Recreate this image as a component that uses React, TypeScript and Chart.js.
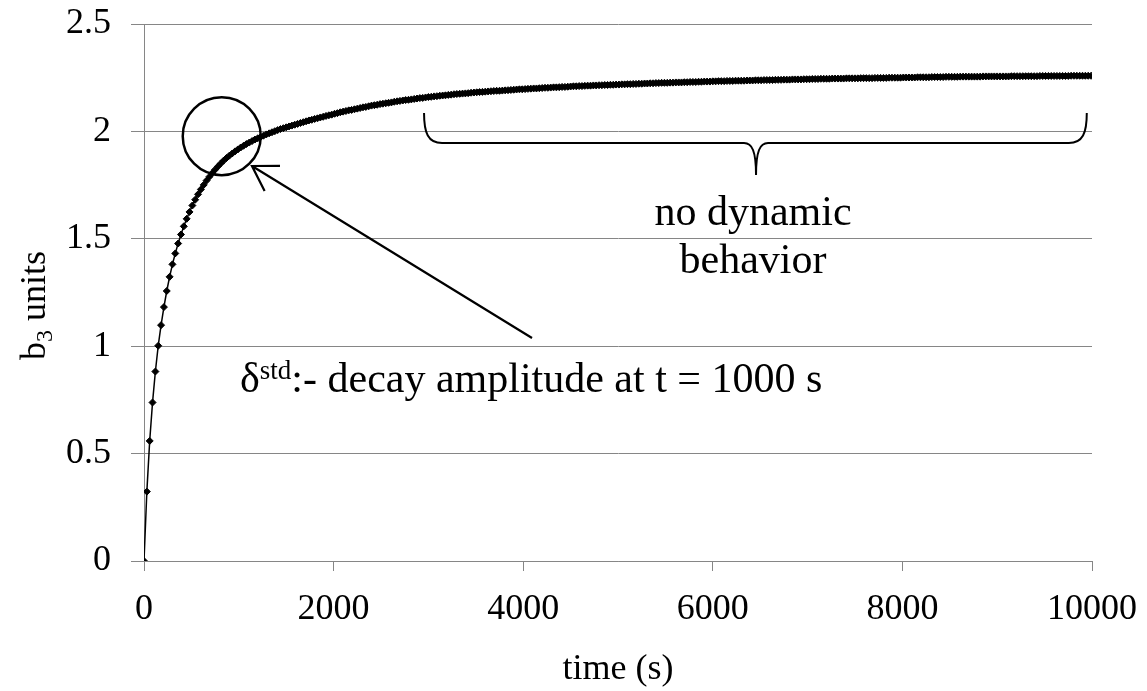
import React, { useEffect, useRef } from "react";
import { Chart, registerables } from "chart.js";

Chart.register(...registerables);

// ---- data ----
const TIME_STEP_S = 30; // sampling interval of the measured series (s)

// b3 (units), one value every TIME_STEP_S seconds, starting at t = 0
const B3_VALUES: number[] = [
  0, 0.323, 0.559, 0.738, 0.882, 1.002, 1.098, 1.182, 1.257, 1.323,
  1.381, 1.432, 1.478, 1.52, 1.558, 1.593, 1.625, 1.655, 1.682, 1.707,
  1.73, 1.751, 1.771, 1.789, 1.806, 1.822, 1.837, 1.851, 1.864, 1.876,
  1.887, 1.897, 1.907, 1.916, 1.925, 1.933, 1.941, 1.948, 1.955, 1.962,
  1.968, 1.974, 1.98, 1.986, 1.991, 1.996, 2.001, 2.006, 2.011, 2.015,
  2.019, 2.023, 2.027, 2.031, 2.035, 2.039, 2.043, 2.047, 2.051, 2.054,
  2.058, 2.061, 2.065, 2.068, 2.072, 2.075, 2.078, 2.082, 2.085, 2.089,
  2.092, 2.095, 2.098, 2.1, 2.103, 2.106, 2.109, 2.112, 2.114, 2.117,
  2.12, 2.122, 2.124, 2.127, 2.129, 2.131, 2.133, 2.135, 2.138, 2.14,
  2.142, 2.144, 2.146, 2.147, 2.149, 2.151, 2.153, 2.155, 2.156, 2.158,
  2.16, 2.161, 2.163, 2.164, 2.166, 2.167, 2.168, 2.17, 2.171, 2.173,
  2.174, 2.175, 2.176, 2.177, 2.178, 2.18, 2.181, 2.182, 2.183, 2.184,
  2.185, 2.186, 2.187, 2.188, 2.189, 2.189, 2.19, 2.191, 2.192, 2.193,
  2.194, 2.195, 2.196, 2.196, 2.197, 2.198, 2.199, 2.2, 2.2, 2.201,
  2.202, 2.203, 2.203, 2.204, 2.205, 2.205, 2.206, 2.207, 2.207, 2.208,
  2.209, 2.21, 2.21, 2.211, 2.211, 2.212, 2.213, 2.213, 2.214, 2.214,
  2.215, 2.215, 2.216, 2.216, 2.217, 2.217, 2.218, 2.218, 2.219, 2.219,
  2.22, 2.22, 2.221, 2.221, 2.222, 2.222, 2.223, 2.223, 2.224, 2.224,
  2.225, 2.225, 2.226, 2.226, 2.226, 2.227, 2.227, 2.228, 2.228, 2.228,
  2.229, 2.229, 2.23, 2.23, 2.23, 2.231, 2.231, 2.232, 2.232, 2.232,
  2.233, 2.233, 2.234, 2.234, 2.234, 2.235, 2.235, 2.235, 2.236, 2.236,
  2.236, 2.236, 2.237, 2.237, 2.237, 2.238, 2.238, 2.238, 2.239, 2.239,
  2.239, 2.239, 2.24, 2.24, 2.24, 2.241, 2.241, 2.241, 2.242, 2.242,
  2.242, 2.242, 2.243, 2.243, 2.243, 2.244, 2.244, 2.244, 2.245, 2.245,
  2.245, 2.245, 2.246, 2.246, 2.246, 2.246, 2.246, 2.247, 2.247, 2.247,
  2.247, 2.247, 2.248, 2.248, 2.248, 2.248, 2.248, 2.249, 2.249, 2.249,
  2.249, 2.249, 2.25, 2.25, 2.25, 2.25, 2.25, 2.251, 2.251, 2.251,
  2.251, 2.251, 2.252, 2.252, 2.252, 2.252, 2.252, 2.253, 2.253, 2.253,
  2.253, 2.253, 2.254, 2.254, 2.254, 2.254, 2.254, 2.255, 2.255, 2.255,
  2.255, 2.255, 2.255, 2.255, 2.255, 2.256, 2.256, 2.256, 2.256, 2.256,
  2.256, 2.256, 2.256, 2.256, 2.256, 2.257, 2.257, 2.257, 2.257, 2.257,
  2.257, 2.257, 2.257, 2.257, 2.257, 2.258, 2.258, 2.258, 2.258, 2.258,
  2.258, 2.258, 2.258, 2.258, 2.258, 2.258, 2.259, 2.259, 2.259, 2.259,
  2.259, 2.259, 2.259, 2.259,
];

const X_TICKS = [0, 2000, 4000, 6000, 8000, 10000];
const Y_TICKS = [0, 0.5, 1, 1.5, 2, 2.5];

const X_TITLE = "time (s)";
const Y_TITLE_MAIN = "b";
const Y_TITLE_SUB = "3";
const Y_TITLE_REST = " units";

const NOTE_DELTA = "δ";
const NOTE_SUP = "std";
const NOTE_REST = ":- decay amplitude at t = 1000 s";
const NOTE_BRACE_LINES = ["no dynamic", "behavior"];

// annotation anchors in data units (time s, b3 units)
const CIRCLE_AT = { t: 820, v: 1.978 };
const ARROW_TIP = { t: 1139, v: 1.839 };
const ARROW_TAIL = { t: 4093, v: 1.038 };
const NOTE_AT = { t: 1013, v: 0.787 };
const BRACE = { t0: 2954, t1: 9945, tMid: 6456, vTop: 2.086, vLine: 1.946, vTip: 1.797 };
const BRACE_NOTE = { t: 6424, v1: 1.564, v2: 1.341 };

const FONT = "'Liberation Serif', 'Times New Roman', serif";
const GRID = "#868686";

const annotations = {
  id: "annotations",
  afterDraw(chart: any) {
    const ctx = chart.ctx as CanvasRenderingContext2D;
    const xs = chart.scales.x;
    const ys = chart.scales.y;
    const px = (t: number) => xs.getPixelForValue(t);
    const py = (v: number) => ys.getPixelForValue(v);
    const area = chart.chartArea;
    ctx.save();
    ctx.fillStyle = "#000";
    ctx.strokeStyle = "#000";

    // axis titles
    ctx.font = `36px ${FONT}`;
    ctx.textAlign = "center";
    ctx.textBaseline = "alphabetic";
    ctx.fillText(X_TITLE, (area.left + area.right) / 2, 679);

    ctx.save();
    ctx.translate(45, (area.top + area.bottom) / 2 + 13);
    ctx.rotate(-Math.PI / 2);
    ctx.textAlign = "left";
    ctx.font = `36px ${FONT}`;
    const wB = ctx.measureText(Y_TITLE_MAIN).width;
    const wR = ctx.measureText(Y_TITLE_REST).width;
    ctx.font = `24px ${FONT}`;
    const w3 = ctx.measureText(Y_TITLE_SUB).width;
    let sx = -(wB + w3 + wR) / 2;
    ctx.font = `36px ${FONT}`;
    ctx.fillText(Y_TITLE_MAIN, sx, 0);
    sx += wB;
    ctx.font = `24px ${FONT}`;
    ctx.fillText(Y_TITLE_SUB, sx, 7);
    sx += w3;
    ctx.font = `36px ${FONT}`;
    ctx.fillText(Y_TITLE_REST, sx, 0);
    ctx.restore();

    // circle
    ctx.lineWidth = 2.5;
    ctx.beginPath();
    ctx.arc(px(CIRCLE_AT.t), py(CIRCLE_AT.v), 39, 0, Math.PI * 2);
    ctx.stroke();

    // arrow
    const tx = px(ARROW_TIP.t), ty = py(ARROW_TIP.v);
    const ex = px(ARROW_TAIL.t), ey = py(ARROW_TAIL.v);
    ctx.lineWidth = 2.2;
    ctx.beginPath();
    ctx.moveTo(ex, ey);
    ctx.lineTo(tx, ty);
    const th = Math.atan2(ey - ty, ex - tx);
    const L = 28;
    const a1 = th - (31.6 * Math.PI) / 180;
    const a2 = th + (31.6 * Math.PI) / 180;
    ctx.moveTo(tx + L * Math.cos(a1), ty + L * Math.sin(a1));
    ctx.lineTo(tx, ty);
    ctx.lineTo(tx + L * Math.cos(a2), ty + L * Math.sin(a2));
    ctx.stroke();

    // decay note
    ctx.textAlign = "left";
    ctx.textBaseline = "alphabetic";
    let nx = px(NOTE_AT.t);
    const ny = py(NOTE_AT.v);
    ctx.font = `42px ${FONT}`;
    ctx.fillText(NOTE_DELTA, nx, ny);
    nx += ctx.measureText(NOTE_DELTA).width;
    ctx.font = `27px ${FONT}`;
    ctx.fillText(NOTE_SUP, nx, ny - 13);
    nx += ctx.measureText(NOTE_SUP).width;
    ctx.font = `42px ${FONT}`;
    ctx.fillText(NOTE_REST, nx, ny);

    // brace
    const bl = px(BRACE.t0), br = px(BRACE.t1), bm = px(BRACE.tMid);
    const yTop = py(BRACE.vTop), yLine = py(BRACE.vLine), yTip = py(BRACE.vTip);
    ctx.lineWidth = 2;
    ctx.beginPath();
    ctx.moveTo(bl, yTop);
    ctx.bezierCurveTo(bl, yTop + 20, bl + 4, yLine, bl + 18, yLine);
    ctx.lineTo(bm - 12, yLine);
    ctx.bezierCurveTo(bm - 4, yLine, bm, yLine + 8, bm, yTip);
    ctx.moveTo(bm, yTip);
    ctx.bezierCurveTo(bm, yLine + 8, bm + 4, yLine, bm + 12, yLine);
    ctx.lineTo(br - 18, yLine);
    ctx.bezierCurveTo(br - 4, yLine, br, yTop + 20, br, yTop);
    ctx.stroke();

    ctx.font = `42px ${FONT}`;
    ctx.textAlign = "center";
    ctx.fillText(NOTE_BRACE_LINES[0], px(BRACE_NOTE.t), py(BRACE_NOTE.v1));
    ctx.fillText(NOTE_BRACE_LINES[1], px(BRACE_NOTE.t), py(BRACE_NOTE.v2));
    ctx.restore();
  },
};

export default function App() {
  const ref = useRef<HTMLCanvasElement | null>(null);

  useEffect(() => {
    document.body.style.margin = "0";
    const canvas = ref.current!;
    const points = B3_VALUES.map((v, i) => ({ x: i * TIME_STEP_S, y: v }));
    const chart = new Chart(canvas, {
      type: "line",
      data: {
        datasets: [
          {
            data: points,
            borderColor: "#000",
            borderWidth: 1.5,
            pointStyle: "rectRot",
            pointRadius: 3.5,
            pointBackgroundColor: "#000",
            pointBorderColor: "#000",
            pointBorderWidth: 1,
            tension: 0,
          },
        ],
      },
      options: {
        animation: false,
        responsive: false,
        devicePixelRatio: 1,
        layout: { padding: { top: 24, right: 55, left: 0, bottom: 0 } },
        plugins: { legend: { display: false }, tooltip: { enabled: false } },
        scales: {
          x: {
            type: "linear",
            min: 0,
            max: 10000,
            afterBuildTicks: (s: any) => {
              s.ticks = X_TICKS.map((v) => ({ value: v }));
            },
            afterFit: (s: any) => {
              s.height = 130;
              s.paddingLeft = 0;
              s.paddingRight = 0;
            },
            ticks: {
              color: "#000",
              font: { family: FONT, size: 36 },
              padding: 17,
              maxRotation: 0,
              autoSkip: false,
              callback: (v: any) => String(v),
            },
            grid: { drawOnChartArea: false, drawTicks: true, tickLength: 10, color: GRID },
            border: { display: true, color: GRID, width: 1 },
          },
          y: {
            type: "linear",
            min: 0,
            max: 2.5,
            afterBuildTicks: (s: any) => {
              s.ticks = Y_TICKS.map((v) => ({ value: v }));
            },
            afterFit: (s: any) => {
              s.width = 144;
              s.paddingTop = 0;
              s.paddingBottom = 0;
            },
            ticks: {
              color: "#000",
              font: { family: FONT, size: 36 },
              padding: 20,
              autoSkip: false,
              callback: (v: any) => String(v),
            },
            grid: { drawTicks: true, tickLength: 13, color: GRID, lineWidth: 1 },
            border: { display: true, color: GRID, width: 1 },
          },
        },
      },
      plugins: [annotations],
    });
    return () => chart.destroy();
  }, []);

  return (
    <div style={{ width: 1147, height: 691 }}>
      <canvas ref={ref} width={1147} height={691} style={{ width: 1147, height: 691, display: "block" }} />
    </div>
  );
}
